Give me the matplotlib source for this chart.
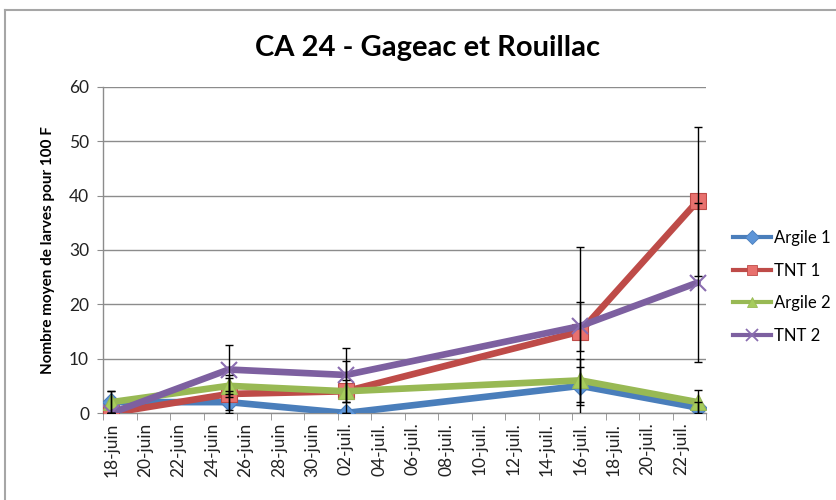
import datetime as dt
import matplotlib
matplotlib.use("Agg")
from matplotlib import pyplot as plt
from matplotlib.lines import Line2D
import matplotlib.dates as mdates

# sampling dates and series values (larves pour 100 F)
DATES = ["2013-06-18", "2013-06-25", "2013-07-02", "2013-07-16", "2013-07-23"]
SERIES = ["Argile 1", "TNT 1", "Argile 2", "TNT 2"]
argile1 = [2, 2, 0, 5, 1]
tnt1 = [0, 3.5, 4, 15, 39]
argile2 = [2, 5, 4, 6, 2]
tnt2 = [0, 8, 7, 16, 24]
# error bars (+/-)
argile1_err = [2, 2, 0, 3.5, 1]
tnt1_err = [0, 3, 5.6, 15.6, 13.7]
argile2_err = [2.1, 2, 2, 4, 2.2]
tnt2_err = [0, 4.5, 5, 4.5, 14.6]
Y_TICKS = [0, 10, 20, 30, 40, 50, 60]

LINE_COLORS = ["#4A7EBB", "#BE4B48", "#98B954", "#7D60A0"]
FACE_COLORS = ["#5D95D8", "#E8716E", "#A6CC5C", "#8A6DB0"]
MARKERS = ["D", "s", "^", "x"]
MSIZES = [9.5, 11.5, 11.5, 12]

plt.rcParams['font.family'] = ['Lato', 'DejaVu Sans']

x = [mdates.date2num(dt.datetime.strptime(d, "%Y-%m-%d")) for d in DATES]

fig = plt.figure(figsize=(8.36, 5.0), dpi=100)
ax = fig.add_axes([103 / 836, 87 / 500, 603 / 836, 326 / 500])

values = [argile1, tnt1, argile2, tnt2]
errors = [argile1_err, tnt1_err, argile2_err, tnt2_err]
for i in range(len(SERIES)):
    if MARKERS[i] == "x":
        ax.plot(x, values[i], color=LINE_COLORS[i], lw=4.8, marker="x",
                ms=MSIZES[i], mew=1.5, mec=FACE_COLORS[i], label=SERIES[i],
                zorder=3 + i, solid_capstyle="round")
    else:
        ax.plot(x, values[i], color=LINE_COLORS[i], lw=4.8, marker=MARKERS[i],
                ms=MSIZES[i], mfc=FACE_COLORS[i], mec=LINE_COLORS[i], mew=0.8,
                label=SERIES[i], zorder=3 + i, solid_capstyle="round")
for i in range(len(SERIES)):
    ax.errorbar(x, values[i], yerr=errors[i], fmt="none", ecolor="black",
                elinewidth=1, capsize=3, capthick=1, zorder=10)

ax.set_ylim(0, 60)
ax.set_yticks(Y_TICKS)
ax.set_xlim(x[0] - 0.5, x[-1] + 0.5)
ax.yaxis.grid(True, color="#8c8c8c", lw=1)
ax.set_axisbelow(True)
for s in ["top", "right"]:
    ax.spines[s].set_visible(False)
for s in ["left", "bottom"]:
    ax.spines[s].set_color("#8c8c8c")
    ax.spines[s].set_linewidth(1)

# labels every 2 days, tick marks between days
label_pos = [x[0] + 2 * k for k in range(18)]
labels = []
for p in label_pos:
    d = mdates.num2date(p)
    labels.append("%02d-%s" % (d.day, "juin" if d.month == 6 else "juil."))
ax.set_xticks(label_pos)
ax.set_xticklabels(labels, rotation=90, fontsize=12.5, color="#222222")
ax.tick_params(axis="x", length=0, pad=7)
ax.set_xticks([x[0] - 0.5 + 2 * k for k in range(19)], minor=True)
ax.tick_params(axis="x", which="minor", length=5, color="#8c8c8c", direction="out")
ax.tick_params(axis="y", length=4, color="#8c8c8c", labelsize=12.5,
               labelcolor="#222222", pad=6)

ax.set_ylabel("Nombre moyen de larves pour 100 F", fontsize=11,
              fontweight="bold", labelpad=10)
fig.text(428 / 836, 1 - 48 / 500, "CA 24 - Gageac et Rouillac",
         ha="center", va="center", fontsize=21, fontweight="bold")

handles = []
for i in range(len(SERIES)):
    if MARKERS[i] == "x":
        handles.append(Line2D([], [], color=LINE_COLORS[i], lw=3, marker="x",
                              ms=8, mew=1.3, mec=FACE_COLORS[i]))
    else:
        handles.append(Line2D([], [], color=LINE_COLORS[i], lw=3, marker=MARKERS[i],
                              ms=7, mfc=FACE_COLORS[i], mec=LINE_COLORS[i], mew=0.6))
fig.legend(handles, SERIES, loc="center left", bbox_to_anchor=(726 / 836, 1 - 287 / 500),
           frameon=False, fontsize=12, handlelength=2.3, handletextpad=0.15,
           labelspacing=1.0, borderaxespad=0)

# chart area border (top and left edges visible)
fig.add_artist(Line2D([5 / 836, 5 / 836], [0, 1 - 10 / 500], color="#a6a6a6", lw=1.5))
fig.add_artist(Line2D([5 / 836, 1], [1 - 10 / 500, 1 - 10 / 500], color="#a6a6a6", lw=1.5))

fig.savefig("out.png", dpi=100)
